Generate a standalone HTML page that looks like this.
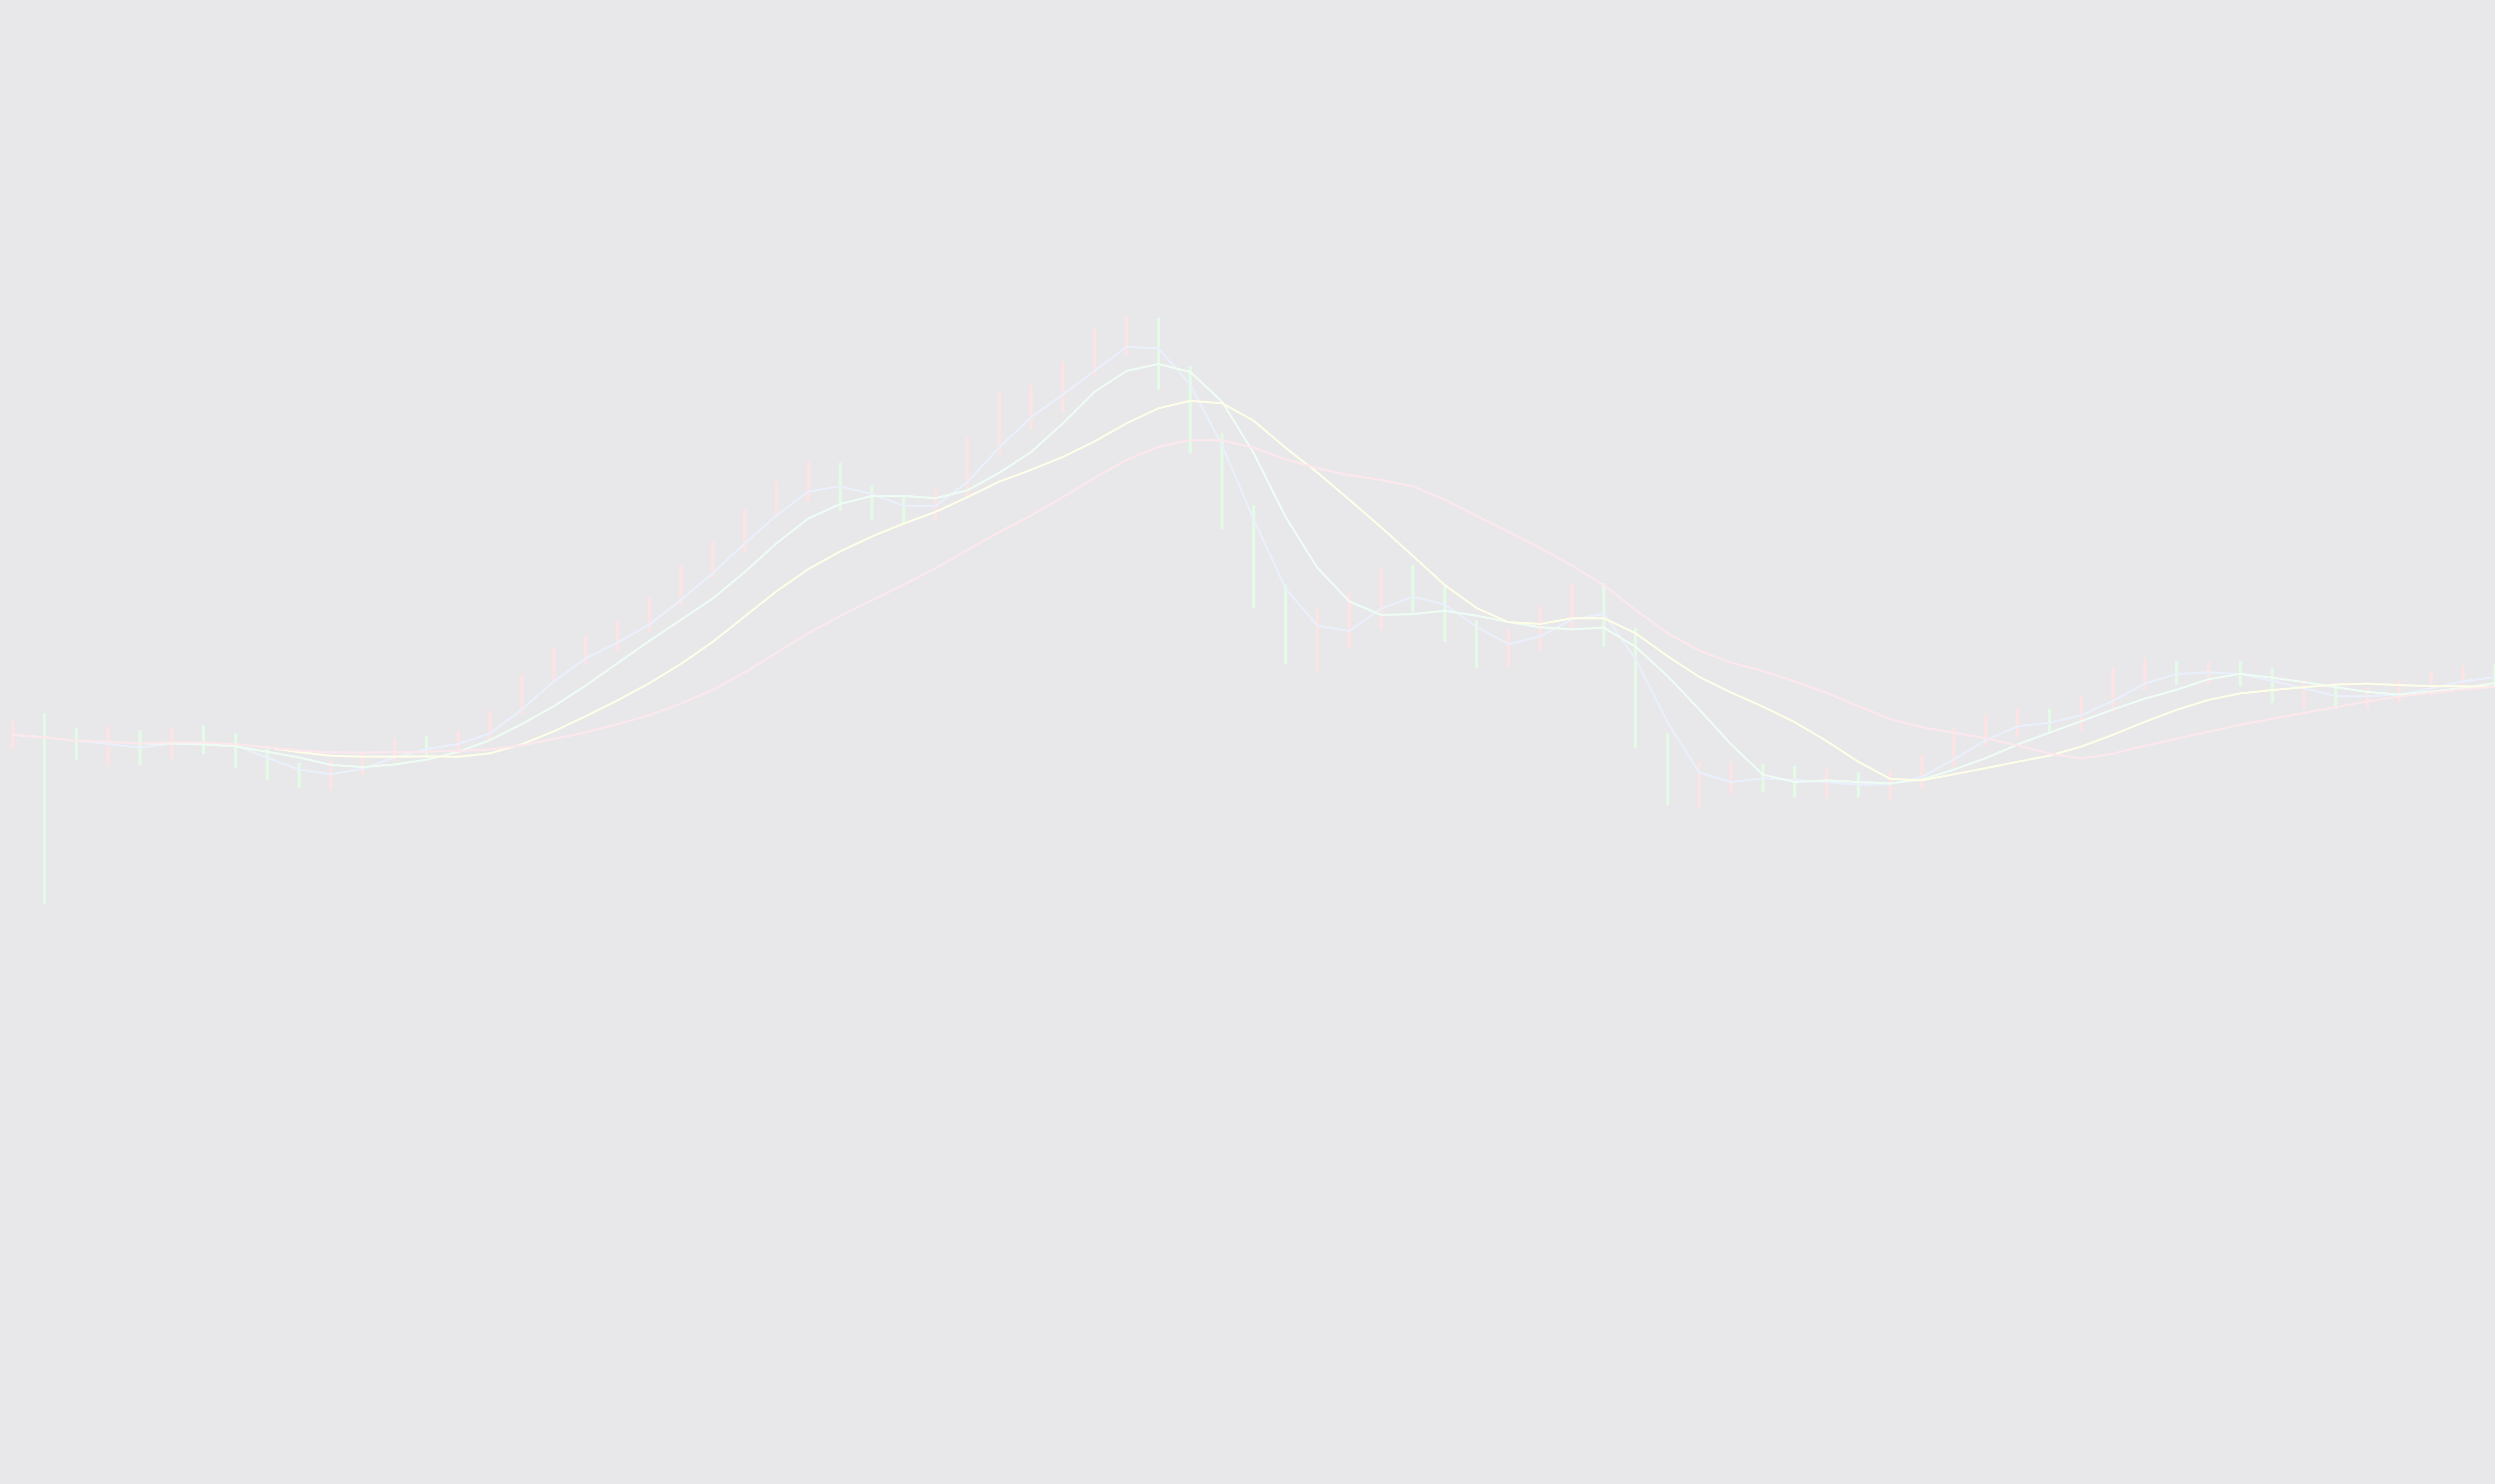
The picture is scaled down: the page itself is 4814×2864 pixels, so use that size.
<!DOCTYPE html>
<html><head><meta charset="utf-8"><style>
html,body{margin:0;padding:0;background:#e8e8ea;width:4814px;height:2864px;overflow:hidden;font-family:"Liberation Sans",sans-serif}
</style></head><body>
<svg id="chart" width="4814" height="2864" viewBox="0 0 4814 2864" xmlns="http://www.w3.org/2000/svg">
<rect x="0" y="0" width="4814" height="2864" fill="#e8e8ea"/>
<g id="candles"></g>
<g id="mas"></g>
</svg>
<script>
// closing prices (arbitrary price units)
const closes = [138,135,130,132,128,138,132,124,115,110,115,125,132,130,135,152,175,188,195,205,222,242,255,278,295,300,288,280,278,288,325,343,345,368,388,390,365,320,275,225,190,205,215,232,228,200,190,195,215,222,205,130,103,110,112,110,107,108,105,108,122,138,144,148,145,158,175,178,176,178,175,163,164,160,163,167,172,176,175];
// candle ranges (high-low span)
const ranges = [18,30,20,25,22,20,18,22,20,16,18,15,14,12,16,20,25,22,18,20,22,26,24,28,22,26,30,22,18,20,35,40,28,32,30,25,45,55,60,65,50,40,35,38,30,35,30,25,28,30,40,55,45,30,20,18,20,18,16,18,22,25,20,18,16,22,28,20,15,14,16,22,18,15,14,14,16,15,14];
const extraLow = [0,90,0,0,0,0,0,0,0,0,0,0,0,0,0,0,0,0,0,0,0,0,0,0,0,0,0,0,0,0,0,0,0,0,0,0,0,0,0,0,0,0,0,0,0,0,0,0,0,0,0,0,0,0,0,0,0,0,0,0,0,0,0,0,0,0,0,0,0,0,0,0,0,0,0,0,0,0,0];
const maPeriods = [3,5,9,15];
const maColors = ["#eaf0fb","#eefcf4","#fdfde8","#fce8ec"];

const NS="http://www.w3.org/2000/svg";
function xs(i){return (i*20+8)*3.07;}
function ys(v){return (600-v)*3.07;}
const cg=document.getElementById('candles');
for(let i=0;i<closes.length;i++){
  const open=i>0?closes[i-1]:closes[i];
  const c=closes[i];
  const mid=(open+c)/2;
  const hi=Math.max(mid+ranges[i]/2,Math.max(open,c));
  const lo=Math.min(mid-ranges[i]/2,Math.min(open,c))-extraLow[i];
  const l=document.createElementNS(NS,'line');
  
  
  l.setAttribute('x1',xs(i));l.setAttribute('x2',xs(i));
  l.setAttribute('y1',ys(hi));l.setAttribute('y2',ys(lo));
  l.setAttribute('stroke',c>=open?'#fde3e3':'#e3fbe6');
  l.setAttribute('stroke-width','6');
  cg.appendChild(l);
}
const mg=document.getElementById('mas');
maPeriods.forEach((p,k)=>{
  let pts=[];
  for(let i=0;i<closes.length;i++){
    const s=closes.slice(Math.max(0,i-p+1),i+1);
    const a=s.reduce((x,y)=>x+y,0)/s.length;
    pts.push(xs(i).toFixed(1)+','+ys(a).toFixed(1));
  }
  const pl=document.createElementNS(NS,'polyline');
  
  
  pl.setAttribute('points',pts.join(' '));
  pl.setAttribute('fill','none');
  pl.setAttribute('stroke',maColors[k]);
  pl.setAttribute('stroke-width','4');
  pl.setAttribute('stroke-linejoin','round');
  mg.appendChild(pl);
});
</script>
</body></html>
